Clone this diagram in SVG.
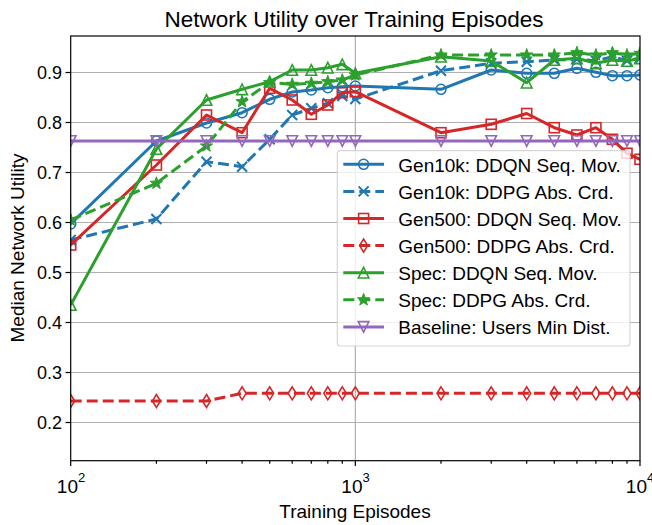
<svg xmlns="http://www.w3.org/2000/svg" width="652" height="525" viewBox="0 0 652 525">
<style>
text { font-family: "Liberation Sans", Arial, sans-serif; fill: #000; }
.grid { stroke: #b0b0b0; stroke-width: 1.2; fill: none; }
.spine { stroke: #000; stroke-width: 1.2; fill: none; }
.tick { stroke: #000; stroke-width: 1.2; }
.ytl { font-size: 18px; text-anchor: end; }
.xtl { font-size: 19px; text-anchor: middle; }
.ln { fill: none; stroke-width: 3; stroke-linejoin: round; stroke-linecap: butt; }
.dash { stroke-dasharray: 11 5; }
.blue { stroke: #1f77b4; }
.red { stroke: #d62728; }
.green { stroke: #2ca02c; }
.purple { stroke: #9467bd; }
.m-circ { marker-start: url(#mCirc); marker-mid: url(#mCirc); marker-end: url(#mCirc); }
.m-x { marker-start: url(#mX); marker-mid: url(#mX); marker-end: url(#mX); }
.m-sq { marker-start: url(#mSq); marker-mid: url(#mSq); marker-end: url(#mSq); }
.m-dia { marker-start: url(#mDia); marker-mid: url(#mDia); marker-end: url(#mDia); }
.m-tri { marker-start: url(#mTri); marker-mid: url(#mTri); marker-end: url(#mTri); }
.m-star { marker-start: url(#mStar); marker-mid: url(#mStar); marker-end: url(#mStar); }
.m-tdn { marker-start: url(#mTdn); marker-mid: url(#mTdn); marker-end: url(#mTdn); }
.leg-text { font-size: 19px; }
</style>
<defs>
<clipPath id="axclip"><rect x="70.7" y="36" width="569.3" height="424.7"/></clipPath>
<marker id="mCirc" markerUnits="userSpaceOnUse" markerWidth="16" markerHeight="16" refX="8" refY="8" orient="0" overflow="visible">
  <circle cx="8" cy="8" r="5" fill="none" stroke="#1f77b4" stroke-width="1.6"/>
</marker>
<marker id="mX" markerUnits="userSpaceOnUse" markerWidth="16" markerHeight="16" refX="8" refY="8" orient="0" overflow="visible">
  <path d="M3,3 L13,13 M13,3 L3,13" fill="none" stroke="#1f77b4" stroke-width="2"/>
</marker>
<marker id="mSq" markerUnits="userSpaceOnUse" markerWidth="16" markerHeight="16" refX="8" refY="8" orient="0" overflow="visible">
  <rect x="3" y="3" width="10" height="10" fill="none" stroke="#d62728" stroke-width="1.6"/>
</marker>
<marker id="mDia" markerUnits="userSpaceOnUse" markerWidth="16" markerHeight="16" refX="8" refY="8" orient="0" overflow="visible">
  <path d="M8,1.5 L12,8 L8,14.5 L4,8 Z" fill="none" stroke="#d62728" stroke-width="1.6"/>
</marker>
<marker id="mTri" markerUnits="userSpaceOnUse" markerWidth="16" markerHeight="16" refX="8" refY="8" orient="0" overflow="visible">
  <path d="M8,2.7 L13.3,13.3 L2.7,13.3 Z" fill="none" stroke="#2ca02c" stroke-width="1.6"/>
</marker>
<marker id="mStar" markerUnits="userSpaceOnUse" markerWidth="16" markerHeight="16" refX="8" refY="8" orient="0" overflow="visible">
  <path d="M8,1.5 L9.53,5.9 L14.18,5.99 L10.47,8.8 L11.82,13.26 L8,10.6 L4.18,13.26 L5.53,8.8 L1.82,5.99 L6.47,5.9 Z" fill="#2ca02c" stroke="#2ca02c" stroke-width="1"/>
</marker>
<marker id="mTdn" markerUnits="userSpaceOnUse" markerWidth="16" markerHeight="16" refX="8" refY="8" orient="0" overflow="visible">
  <path d="M8,13.3 L13.3,2.7 L2.7,2.7 Z" fill="none" stroke="#9467bd" stroke-width="1.6"/>
</marker>
</defs>

<rect x="0" y="0" width="652" height="525" fill="#ffffff"/>

<g id="grid">
  <line class="grid" x1="70.7" y1="72.5" x2="640" y2="72.5"/>
  <line class="grid" x1="70.7" y1="122.5" x2="640" y2="122.5"/>
  <line class="grid" x1="70.7" y1="172.5" x2="640" y2="172.5"/>
  <line class="grid" x1="70.7" y1="222.5" x2="640" y2="222.5"/>
  <line class="grid" x1="70.7" y1="272.5" x2="640" y2="272.5"/>
  <line class="grid" x1="70.7" y1="322.5" x2="640" y2="322.5"/>
  <line class="grid" x1="70.7" y1="372.5" x2="640" y2="372.5"/>
  <line class="grid" x1="70.7" y1="422.5" x2="640" y2="422.5"/>
  <line class="grid" x1="355.35" y1="36" x2="355.35" y2="460.7"/>
</g>

<g id="connectors" clip-path="url(#axclip)">
  <polyline id="gen10k-ddqn" class="ln blue m-circ" points="70.7,224 156.4,141 206.5,123 242.1,112.7 269.7,99.3 292.2,92 311.3,90 327.8,87.7 342.3,86.7 355.35,86 441,89.3 491.2,70 526.7,73.3 554.3,73.3 576.9,68.3 595.9,72.3 612.4,75.7 627,75.7 640,75"/>
  <polyline id="gen10k-ddpg" class="ln dash blue m-x" points="70.7,240 156.4,219 206.5,161.7 242.1,166.7 269.7,139.3 292.2,115 311.3,108.3 327.8,103.3 342.3,96 355.35,99 441,70.7 491.2,63.3 526.7,61.7 554.3,60 576.9,59.3 595.9,60.7 612.4,56.7 627,60.7 640,58.3"/>
  <polyline id="gen500-ddqn" class="ln red m-sq" points="70.7,245 156.4,165 206.5,115 242.1,132.7 269.7,88.3 292.2,100 311.3,114.3 327.8,105 342.3,92.7 355.35,91.7 441,132.7 491.2,124.3 526.7,113.5 554.3,127.7 576.9,135 595.9,127.7 612.4,139.3 627,153.3 640,159.3"/>
  <polyline id="gen500-ddpg" class="ln dash red m-dia" points="70.7,401 156.4,401 206.5,401 242.1,393.3 269.7,393.3 292.2,393.3 311.3,393.3 327.8,393.3 342.3,393.3 355.35,393.3 441,393.3 491.2,393.3 526.7,393.3 554.3,393.3 576.9,393.3 595.9,393.3 612.4,393.3 627,393.3 640,393.3"/>
  <polyline id="spec-ddqn" class="ln green m-tri" points="70.7,305 156.4,149 206.5,100 242.1,89.3 269.7,81.7 292.2,70 311.3,70 327.8,67.7 342.3,64.3 355.35,73.3 441,56.7 491.2,61 526.7,82.7 554.3,60 576.9,58.3 595.9,63.3 612.4,60 627,61 640,58.3"/>
  <polyline id="spec-ddpg" class="ln dash green m-star" points="70.7,220 156.4,183.3 206.5,146 242.1,101.7 269.7,82.5 292.2,84.3 311.3,83.3 327.8,81.7 342.3,80 355.35,75 441,55 491.2,55 526.7,55 554.3,55 576.9,52.7 595.9,55 612.4,52.7 627,55 640,53.3"/>
  <polyline id="baseline" class="ln purple m-tdn" points="70.7,141 156.4,141 206.5,141 242.1,141 269.7,141 292.2,141 311.3,141 327.8,141 342.3,141 355.35,141 441,141 491.2,141 526.7,141 554.3,141 576.9,141 595.9,141 612.4,141 627,141 640,141"/>
</g>

<g id="axes">
  <rect class="spine" x="70.7" y="36" width="569.3" height="424.7"/>
  <g id="yticks">
    <line class="tick" x1="65.5" y1="72.5" x2="70.7" y2="72.5"/>
    <line class="tick" x1="65.5" y1="122.5" x2="70.7" y2="122.5"/>
    <line class="tick" x1="65.5" y1="172.5" x2="70.7" y2="172.5"/>
    <line class="tick" x1="65.5" y1="222.5" x2="70.7" y2="222.5"/>
    <line class="tick" x1="65.5" y1="272.5" x2="70.7" y2="272.5"/>
    <line class="tick" x1="65.5" y1="322.5" x2="70.7" y2="322.5"/>
    <line class="tick" x1="65.5" y1="372.5" x2="70.7" y2="372.5"/>
    <line class="tick" x1="65.5" y1="422.5" x2="70.7" y2="422.5"/>
    <text class="ytl" x="62" y="79">0.9</text>
    <text class="ytl" x="62" y="129">0.8</text>
    <text class="ytl" x="62" y="179">0.7</text>
    <text class="ytl" x="62" y="229">0.6</text>
    <text class="ytl" x="62" y="279">0.5</text>
    <text class="ytl" x="62" y="329">0.4</text>
    <text class="ytl" x="62" y="379">0.3</text>
    <text class="ytl" x="62" y="429">0.2</text>
  </g>
  <g id="xticks">
    <line class="tick" x1="70.7" y1="460.7" x2="70.7" y2="466"/>
    <line class="tick" x1="355.35" y1="460.7" x2="355.35" y2="466"/>
    <line class="tick" x1="640" y1="460.7" x2="640" y2="466"/>
    <path class="tick" d="M156.4,460.7v3 M206.5,460.7v3 M242.1,460.7v3 M269.7,460.7v3 M292.2,460.7v3 M311.3,460.7v3 M327.8,460.7v3 M342.3,460.7v3 M441,460.7v3 M491.2,460.7v3 M526.7,460.7v3 M554.3,460.7v3 M576.9,460.7v3 M595.9,460.7v3 M612.4,460.7v3 M627,460.7v3"/>
    <text class="xtl" x="71" y="493">10<tspan dy="-11" font-size="13">2</tspan></text>
    <text class="xtl" x="355.5" y="493">10<tspan dy="-11" font-size="13">3</tspan></text>
    <text class="xtl" x="640" y="493">10<tspan dy="-11" font-size="13">4</tspan></text>
  </g>
  <text x="355" y="518" font-size="19" text-anchor="middle">Training Episodes</text>
  <text transform="translate(24,248) rotate(-90)" font-size="19" text-anchor="middle">Median Network Utility</text>
  <text x="354" y="27" font-size="22.5" text-anchor="middle">Network Utility over Training Episodes</text>
</g>

<g id="legend">
  <rect x="337.3" y="150.7" width="292.7" height="195.3" rx="3" fill="#ffffff" fill-opacity="0.8" stroke="#cccccc" stroke-opacity="0.8" stroke-width="1.2"/>
  <g id="leg-gen10k-ddqn">
    <polyline class="ln blue m-circ" style="marker-start:none;marker-end:none" points="343.3,164.3 363.6,164.3 384,164.3"/>
    <text class="leg-text" x="398.3" y="171.7">Gen10k: DDQN Seq. Mov.</text>
  </g>
  <g id="leg-gen10k-ddpg">
    <polyline class="ln dash blue m-x" style="marker-start:none;marker-end:none" points="343.3,191.4 363.6,191.4 384,191.4"/>
    <text class="leg-text" x="398.3" y="198.8">Gen10k: DDPG Abs. Crd.</text>
  </g>
  <g id="leg-gen500-ddqn">
    <polyline class="ln red m-sq" style="marker-start:none;marker-end:none" points="343.3,218.5 363.6,218.5 384,218.5"/>
    <text class="leg-text" x="398.3" y="225.9">Gen500: DDQN Seq. Mov.</text>
  </g>
  <g id="leg-gen500-ddpg">
    <polyline class="ln dash red m-dia" style="marker-start:none;marker-end:none" points="343.3,245.6 363.6,245.6 384,245.6"/>
    <text class="leg-text" x="398.3" y="253">Gen500: DDPG Abs. Crd.</text>
  </g>
  <g id="leg-spec-ddqn">
    <polyline class="ln green m-tri" style="marker-start:none;marker-end:none" points="343.3,272.7 363.6,272.7 384,272.7"/>
    <text class="leg-text" x="398.3" y="280.1">Spec: DDQN Seq. Mov.</text>
  </g>
  <g id="leg-spec-ddpg">
    <polyline class="ln dash green m-star" style="marker-start:none;marker-end:none" points="343.3,299.8 363.6,299.8 384,299.8"/>
    <text class="leg-text" x="398.3" y="307.2">Spec: DDPG Abs. Crd.</text>
  </g>
  <g id="leg-baseline">
    <polyline class="ln purple m-tdn" style="marker-start:none;marker-end:none" points="343.3,326.9 363.6,326.9 384,326.9"/>
    <text class="leg-text" x="398.3" y="334.3">Baseline: Users Min Dist.</text>
  </g>
</g>
</svg>
